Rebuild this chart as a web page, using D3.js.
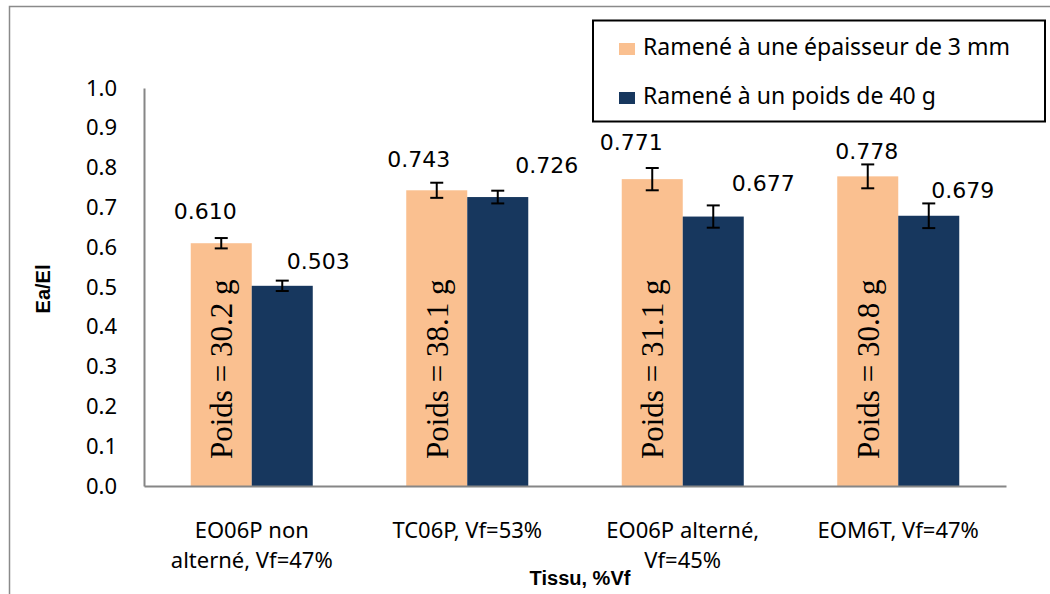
<!DOCTYPE html>
<html>
<head>
<meta charset="utf-8">
<script src="https://cdn.jsdelivr.net/npm/d3@7"></script>
<style>
  html, body { margin: 0; padding: 0; background: #fff; }
  svg { display: block; }
</style>
</head>
<body>
<svg id="chart" width="1050" height="594"></svg>
<script>
// ---- data ----
const categories = ["EO06P non alterné, Vf=47%", "TC06P, Vf=53%", "EO06P alterné, Vf=45%", "EOM6T, Vf=47%"];
const categoryLines = [["EO06P non", "alterné, Vf=47%"], ["TC06P, Vf=53%"], ["EO06P alterné,", "Vf=45%"], ["EOM6T, Vf=47%"]];
const seriesNames = ["Ramené à une épaisseur de 3 mm", "Ramené à un poids de 40 g"];
const thicknessValues = [0.610, 0.743, 0.771, 0.778];
const weightValues = [0.503, 0.726, 0.677, 0.679];
const thicknessErrors = [0.013, 0.019, 0.028, 0.030];
const weightErrors = [0.013, 0.016, 0.028, 0.031];
const sampleWeights = [30.2, 38.1, 31.1, 30.8];
const yTicks = [0.0, 0.1, 0.2, 0.3, 0.4, 0.5, 0.6, 0.7, 0.8, 0.9, 1.0];
const yTitle = "Ea/El";
const xTitle = "Tissu, %Vf";

// ---- layout / style (not data) ----
const colors = ["#FAC090", "#17375E"];
const axisColor = "#868686";
// manual label nudges (px) as placed in the original: [dx, dy] per series per category
const labelNudge = [
  [[-16, -32], [-18, -31], [-21, -37], [-1, -25]],
  [[36, -24], [49, -32], [50, -33], [34, -25]]
];

const svg = d3.select("#chart");

// outer frame (top + left gray lines)
svg.append("path")
  .attr("d", "M9.5,594 L9.5,6.5 L1050,6.5")
  .attr("fill", "none").attr("stroke", "#8a8a8a").attr("stroke-width", 1.5);

const plot = { left: 144, right: 1006, top: 88, bottom: 486 };

const x0 = d3.scaleBand().domain(categories).range([plot.left, plot.right]).padding(0);
const x1 = d3.scaleBand().domain(seriesNames).range([0, x0.bandwidth()]).paddingInner(0).paddingOuter(0.766);
const y = d3.scaleLinear().domain([0, 1]).range([plot.bottom, plot.top]);

const series = [
  { name: seriesNames[0], values: thicknessValues, errors: thicknessErrors, color: colors[0] },
  { name: seriesNames[1], values: weightValues, errors: weightErrors, color: colors[1] }
];

// bars
series.forEach((s, si) => {
  svg.append("g").selectAll("rect")
    .data(categories)
    .join("rect")
    .attr("x", (c) => x0(c) + x1(s.name))
    .attr("width", x1.bandwidth())
    .attr("y", (c, i) => y(s.values[i]))
    .attr("height", (c, i) => y(0) - y(s.values[i]))
    .attr("fill", s.color);
});

// rotated weight texts inside orange bars
svg.append("g").selectAll("text")
  .data(categories)
  .join("text")
  .attr("transform", (c) => `translate(${x0(c) + x1(seriesNames[0]) + x1.bandwidth() / 2 + 11},${y(0) - 27}) rotate(-90)`)
  .attr("font-family", "'Liberation Serif', 'Times New Roman', serif")
  .attr("font-size", 31)
  .attr("fill", "#000")
  .text((c, i) => `Poids = ${sampleWeights[i].toFixed(1)} g`);

// error bars
series.forEach((s) => {
  const g = svg.append("g").attr("stroke", "#000").attr("stroke-width", 2).attr("fill", "none");
  categories.forEach((c, i) => {
    const cx = x0(c) + x1(s.name) + x1.bandwidth() / 2;
    const yHi = y(s.values[i] + s.errors[i]);
    const yLo = y(s.values[i] - s.errors[i]);
    g.append("line").attr("x1", cx).attr("x2", cx).attr("y1", yHi).attr("y2", yLo);
    g.append("line").attr("x1", cx - 6.5).attr("x2", cx + 6.5).attr("y1", yHi).attr("y2", yHi);
    g.append("line").attr("x1", cx - 6.5).attr("x2", cx + 6.5).attr("y1", yLo).attr("y2", yLo);
  });
});

// value labels
series.forEach((s, si) => {
  svg.append("g").selectAll("text")
    .data(categories)
    .join("text")
    .attr("x", (c, i) => x0(c) + x1(s.name) + x1.bandwidth() / 2 + labelNudge[si][i][0])
    .attr("y", (c, i) => y(s.values[i]) + labelNudge[si][i][1])
    .attr("text-anchor", "middle")
    .attr("dominant-baseline", "central")
    .attr("font-family", "'DejaVu Sans', Verdana, sans-serif")
    .attr("font-size", 22)
    .attr("fill", "#000")
    .text((c, i) => d3.format(".3f")(s.values[i]));
});

// y axis
const yAxis = svg.append("g")
  .attr("transform", `translate(${plot.left},0)`)
  .call(d3.axisLeft(y).tickValues(yTicks).tickFormat(d3.format(".1f")).tickSize(0).tickPadding(27));
yAxis.select(".domain").attr("stroke", axisColor).attr("stroke-width", 2);
yAxis.selectAll("text")
  .attr("font-family", "'Noto Sans', 'Open Sans', sans-serif")
  .attr("font-size", 22).attr("fill", "#000");

// x axis
const xAxis = svg.append("g")
  .attr("transform", `translate(0,${plot.bottom})`)
  .call(d3.axisBottom(x0).tickSize(0).tickFormat(""));
xAxis.select(".domain").attr("stroke", axisColor).attr("stroke-width", 2);

// category labels (wrapped)
categories.forEach((c, i) => {
  const t = svg.append("text")
    .attr("text-anchor", "middle")
    .attr("font-family", "'Noto Sans', 'Open Sans', sans-serif")
    .attr("font-size", 22)
    .attr("fill", "#000");
  categoryLines[i].forEach((line, li) => {
    t.append("tspan")
      .attr("x", x0(c) + x0.bandwidth() / 2)
      .attr("y", 538 + li * 30)
      .text(line);
  });
});

// axis titles
svg.append("text")
  .attr("transform", `translate(50,289) rotate(-90)`)
  .attr("text-anchor", "middle")
  .attr("font-family", "'Liberation Sans', Arial, sans-serif")
  .attr("font-weight", "bold")
  .attr("font-size", 20)
  .attr("fill", "#000")
  .text(yTitle);

svg.append("text")
  .attr("x", 580).attr("y", 585)
  .attr("text-anchor", "middle")
  .attr("font-family", "'Liberation Sans', Arial, sans-serif")
  .attr("font-weight", "bold")
  .attr("font-size", 20)
  .attr("fill", "#000")
  .text(xTitle);

// legend
const legend = svg.append("g");
legend.append("rect")
  .attr("x", 593).attr("y", 20.5).attr("width", 452).attr("height", 101)
  .attr("fill", "#fff").attr("stroke", "#000").attr("stroke-width", 2);
series.forEach((s, si) => {
  const row = legend.append("g").attr("transform", `translate(619,${43 + si * 49})`);
  row.append("rect").attr("x", 0).attr("y", 0).attr("width", 16).attr("height", 12).attr("fill", s.color);
  row.append("text")
    .attr("x", 24).attr("y", 12)
    .attr("font-family", "'Noto Sans', 'Open Sans', sans-serif")
    .attr("font-size", 23)
    .attr("fill", "#000")
    .text(s.name);
});
</script>
</body>
</html>
